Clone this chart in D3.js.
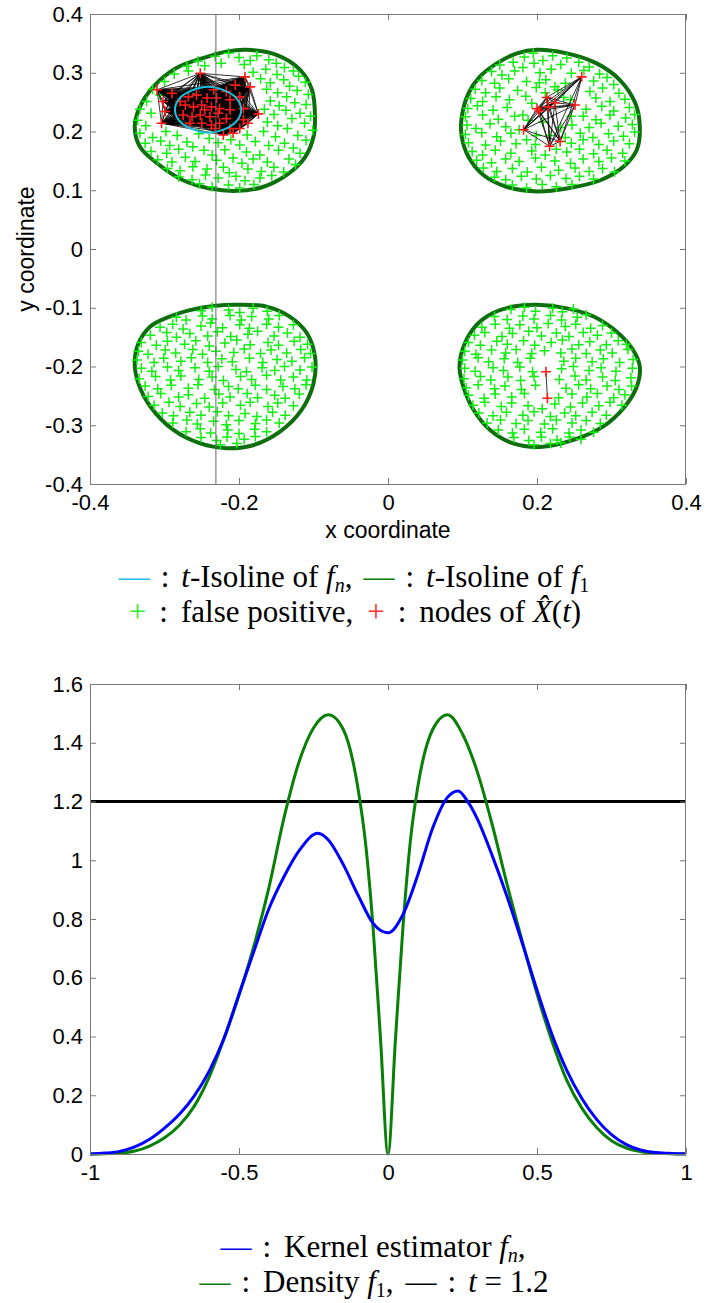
<!DOCTYPE html>
<html>
<head>
<meta charset="utf-8">
<script src="https://cdn.jsdelivr.net/npm/d3@7"></script>
<style>
  html, body { margin: 0; padding: 0; background: #fff; }
  svg { display: block; }
</style>
</head>
<body>
<svg id="chart" width="705" height="1303"></svg>
<script>
// ---------- top panel: isolines, false positives, nodes ----------
const xTicksTop = [-0.4, -0.2, 0, 0.2, 0.4];
const yTicksTop = [-0.4, -0.3, -0.2, -0.1, 0, 0.1, 0.2, 0.3, 0.4];

// t-isolines of f_1 (one closed curve per blob)
const isoF1TL = [[-0.190,0.339],[-0.149,0.330],[-0.118,0.305],[-0.102,0.271],[-0.098,0.225],[-0.100,0.191],[-0.111,0.157],[-0.136,0.126],[-0.167,0.106],[-0.203,0.099],[-0.239,0.103],[-0.275,0.117],[-0.310,0.146],[-0.333,0.174],[-0.340,0.208],[-0.333,0.242],[-0.315,0.276],[-0.284,0.308],[-0.243,0.327],[-0.217,0.336]];
const isoF1TR = [[0.200,0.339],[0.240,0.333],[0.280,0.316],[0.311,0.288],[0.332,0.248],[0.338,0.208],[0.334,0.169],[0.316,0.140],[0.285,0.117],[0.240,0.103],[0.200,0.098],[0.159,0.106],[0.128,0.126],[0.108,0.157],[0.099,0.191],[0.099,0.225],[0.108,0.265],[0.123,0.293],[0.146,0.316],[0.173,0.333]];
const isoF1BL = [[-0.203,-0.095],[-0.163,-0.098],[-0.132,-0.115],[-0.109,-0.143],[-0.098,-0.183],[-0.100,-0.229],[-0.116,-0.274],[-0.145,-0.311],[-0.181,-0.334],[-0.217,-0.339],[-0.252,-0.331],[-0.288,-0.308],[-0.319,-0.268],[-0.335,-0.229],[-0.340,-0.195],[-0.335,-0.161],[-0.319,-0.132],[-0.293,-0.115],[-0.266,-0.104],[-0.234,-0.097]];
const isoF1BR = [[0.200,-0.095],[0.240,-0.101],[0.276,-0.115],[0.307,-0.141],[0.329,-0.172],[0.338,-0.200],[0.334,-0.234],[0.318,-0.268],[0.289,-0.302],[0.249,-0.325],[0.204,-0.337],[0.168,-0.331],[0.137,-0.308],[0.115,-0.274],[0.101,-0.234],[0.096,-0.200],[0.103,-0.161],[0.119,-0.129],[0.141,-0.109],[0.168,-0.098]];

// t-isoline of f_n
const isoFn = [[-0.197,0.237],[-0.203,0.256],[-0.220,0.270],[-0.242,0.276],[-0.263,0.270],[-0.280,0.256],[-0.286,0.237],[-0.280,0.218],[-0.263,0.204],[-0.241,0.198],[-0.219,0.204],[-0.203,0.218]];

const cutX = -0.231;

// nodes of X^(t)
const nodesTL = [[-0.310,0.271],[-0.290,0.265],[-0.302,0.251],[-0.299,0.234],[-0.304,0.214],[-0.252,0.299],[-0.192,0.293],[-0.205,0.279],[-0.217,0.268],[-0.234,0.271],[-0.268,0.259],[-0.257,0.262],[-0.243,0.257],[-0.230,0.257],[-0.212,0.254],[-0.199,0.259],[-0.272,0.245],[-0.261,0.242],[-0.250,0.245],[-0.237,0.242],[-0.226,0.239],[-0.212,0.237],[-0.194,0.239],[-0.275,0.228],[-0.263,0.225],[-0.252,0.228],[-0.239,0.225],[-0.228,0.231],[-0.217,0.222],[-0.174,0.230],[-0.188,0.214],[-0.199,0.205],[-0.208,0.197],[-0.221,0.194],[-0.237,0.211],[-0.250,0.214],[-0.266,0.214],[-0.226,0.214],[-0.194,0.220],[-0.279,0.251],[-0.185,0.276],[-0.212,0.205],[-0.246,0.237],[-0.232,0.205]];
const nodesTR = [[0.260,0.293],[0.213,0.258],[0.224,0.249],[0.215,0.242],[0.200,0.239],[0.203,0.235],[0.251,0.245],[0.182,0.203],[0.231,0.183],[0.217,0.175]];
const nodesBR = [[0.212,-0.209],[0.214,-0.254]];

// false positives
const greenTL = [
  [-0.232,0.328],[-0.214,0.333],[-0.200,0.326],[-0.176,0.329],[-0.160,0.322],
  [-0.255,0.320],[-0.246,0.312],[-0.224,0.316],[-0.193,0.314],[-0.185,0.321],[-0.150,0.316],[-0.139,0.309],[-0.270,0.311],
  [-0.287,0.298],[-0.268,0.303],[-0.181,0.301],[-0.164,0.306],[-0.149,0.297],[-0.127,0.303],[-0.120,0.294],
  [-0.300,0.285],[-0.171,0.290],[-0.158,0.283],[-0.140,0.288],[-0.111,0.284],[-0.132,0.277],
  [-0.316,0.272],[-0.306,0.262],[-0.163,0.272],[-0.148,0.266],[-0.122,0.270],[-0.107,0.263],[-0.136,0.259],
  [-0.324,0.251],[-0.158,0.252],[-0.146,0.244],[-0.125,0.249],[-0.110,0.246],[-0.166,0.238],
  [-0.333,0.238],[-0.318,0.231],[-0.153,0.229],[-0.137,0.236],[-0.118,0.231],[-0.104,0.226],[-0.129,0.222],
  [-0.336,0.219],[-0.325,0.210],[-0.162,0.216],[-0.148,0.210],[-0.112,0.214],[-0.135,0.205],[-0.167,0.200],[-0.101,0.202],
  [-0.333,0.197],[-0.316,0.190],[-0.298,0.200],[-0.283,0.193],[-0.254,0.196],[-0.240,0.188],[-0.189,0.194],[-0.151,0.191],[-0.121,0.193],[-0.110,0.185],
  [-0.326,0.180],[-0.305,0.184],[-0.293,0.176],[-0.270,0.182],[-0.262,0.174],[-0.228,0.181],[-0.211,0.186],[-0.199,0.177],[-0.178,0.183],[-0.160,0.176],[-0.139,0.180],[-0.127,0.172],
  [-0.318,0.166],[-0.297,0.163],[-0.281,0.170],[-0.247,0.168],[-0.236,0.160],[-0.219,0.169],[-0.190,0.165],[-0.172,0.160],[-0.147,0.168],[-0.118,0.163],
  [-0.309,0.152],[-0.290,0.148],[-0.272,0.156],[-0.259,0.149],[-0.230,0.151],[-0.208,0.155],[-0.196,0.146],[-0.181,0.153],[-0.162,0.148],[-0.133,0.153],[-0.124,0.144],
  [-0.296,0.137],[-0.279,0.133],[-0.262,0.140],[-0.243,0.136],[-0.221,0.139],[-0.213,0.130],[-0.188,0.136],[-0.170,0.132],[-0.153,0.139],[-0.140,0.131],
  [-0.281,0.123],[-0.263,0.118],[-0.245,0.126],[-0.228,0.121],[-0.204,0.124],[-0.192,0.116],[-0.172,0.121],[-0.156,0.125],
  [-0.253,0.111],[-0.236,0.106],[-0.214,0.109],[-0.199,0.104],[-0.180,0.110]
];
const greenTR = [
  [0.183,0.327],[0.195,0.333],[0.221,0.329],[0.240,0.325],[0.208,0.321],
  [0.150,0.313],[0.168,0.318],[0.181,0.309],[0.232,0.314],[0.256,0.318],[0.270,0.310],[0.196,0.316],
  [0.139,0.302],[0.153,0.296],[0.170,0.303],[0.204,0.300],[0.219,0.306],[0.246,0.299],[0.263,0.304],[0.284,0.298],[0.294,0.292],
  [0.126,0.287],[0.143,0.282],[0.162,0.290],[0.186,0.285],[0.212,0.288],[0.238,0.282],[0.276,0.286],[0.303,0.280],
  [0.117,0.272],[0.131,0.266],[0.150,0.274],[0.174,0.270],[0.199,0.275],[0.228,0.271],[0.271,0.268],[0.288,0.274],[0.310,0.265],
  [0.111,0.256],[0.127,0.251],[0.145,0.259],[0.163,0.254],[0.185,0.260],[0.279,0.257],[0.298,0.251],[0.318,0.255],
  [0.107,0.239],[0.120,0.244],[0.141,0.236],[0.160,0.241],[0.266,0.238],[0.287,0.243],[0.303,0.235],[0.324,0.241],
  [0.104,0.225],[0.127,0.228],[0.148,0.221],[0.170,0.226],[0.188,0.219],[0.262,0.226],[0.279,0.220],[0.298,0.228],[0.319,0.223],[0.331,0.229],
  [0.106,0.211],[0.118,0.205],[0.137,0.213],[0.158,0.208],[0.247,0.211],[0.270,0.207],[0.286,0.214],[0.309,0.209],[0.328,0.212],
  [0.104,0.195],[0.126,0.198],[0.146,0.191],[0.165,0.197],[0.199,0.193],[0.258,0.197],[0.275,0.190],[0.296,0.196],[0.316,0.192],[0.331,0.199],
  [0.108,0.181],[0.131,0.177],[0.151,0.184],[0.172,0.179],[0.186,0.186],[0.246,0.180],[0.262,0.186],[0.283,0.178],[0.303,0.184],[0.324,0.179],
  [0.113,0.166],[0.127,0.160],[0.144,0.168],[0.165,0.163],[0.193,0.167],[0.211,0.160],[0.240,0.165],[0.257,0.170],[0.276,0.162],[0.294,0.168],[0.315,0.163],
  [0.119,0.151],[0.139,0.147],[0.158,0.153],[0.176,0.149],[0.198,0.155],[0.224,0.150],[0.245,0.146],[0.262,0.153],[0.283,0.149],[0.300,0.155],[0.318,0.150],
  [0.128,0.138],[0.146,0.132],[0.167,0.137],[0.187,0.131],[0.206,0.139],[0.229,0.134],[0.251,0.138],[0.270,0.132],[0.288,0.137],[0.304,0.131],
  [0.143,0.122],[0.158,0.118],[0.179,0.124],[0.199,0.119],[0.218,0.125],[0.239,0.120],[0.257,0.124],[0.276,0.119],
  [0.167,0.109],[0.186,0.104],[0.207,0.110],[0.226,0.106],[0.247,0.110],
  [0.203,0.283],[0.224,0.276],[0.211,0.266],[0.236,0.258],[0.193,0.248],[0.246,0.226],[0.181,0.228],[0.208,0.216],[0.232,0.207],[0.176,0.203],[0.217,0.193],[0.238,0.190],[0.198,0.178],[0.226,0.170],[0.245,0.254]
];
const greenBL = [
  [-0.251,-0.105],[-0.236,-0.099],[-0.214,-0.104],[-0.199,-0.108],[-0.181,-0.101],[-0.162,-0.106],
  [-0.284,-0.116],[-0.271,-0.121],[-0.249,-0.114],[-0.236,-0.119],[-0.212,-0.113],[-0.197,-0.121],[-0.183,-0.115],[-0.160,-0.119],[-0.146,-0.113],
  [-0.306,-0.133],[-0.289,-0.128],[-0.275,-0.136],[-0.251,-0.131],[-0.238,-0.126],[-0.222,-0.134],[-0.199,-0.129],[-0.186,-0.135],[-0.163,-0.128],[-0.147,-0.133],[-0.127,-0.129],
  [-0.319,-0.147],[-0.297,-0.142],[-0.284,-0.150],[-0.266,-0.144],[-0.242,-0.148],[-0.229,-0.141],[-0.211,-0.149],[-0.188,-0.145],[-0.175,-0.140],[-0.153,-0.148],[-0.135,-0.143],[-0.118,-0.150],
  [-0.331,-0.159],[-0.311,-0.164],[-0.296,-0.157],[-0.273,-0.162],[-0.258,-0.156],[-0.240,-0.165],[-0.219,-0.160],[-0.203,-0.155],[-0.185,-0.163],[-0.161,-0.159],[-0.147,-0.164],[-0.126,-0.157],[-0.108,-0.162],
  [-0.335,-0.174],[-0.322,-0.179],[-0.299,-0.172],[-0.285,-0.177],[-0.262,-0.171],[-0.249,-0.179],[-0.231,-0.174],[-0.207,-0.176],[-0.193,-0.170],[-0.171,-0.178],[-0.157,-0.172],[-0.136,-0.177],[-0.117,-0.171],[-0.104,-0.178],
  [-0.337,-0.189],[-0.314,-0.193],[-0.301,-0.186],[-0.278,-0.191],[-0.264,-0.185],[-0.242,-0.193],[-0.223,-0.187],[-0.209,-0.192],[-0.186,-0.186],[-0.168,-0.193],[-0.149,-0.188],[-0.129,-0.191],[-0.112,-0.185],
  [-0.331,-0.203],[-0.317,-0.208],[-0.296,-0.201],[-0.281,-0.207],[-0.259,-0.202],[-0.240,-0.208],[-0.228,-0.200],[-0.204,-0.205],[-0.190,-0.209],[-0.169,-0.202],[-0.152,-0.207],[-0.139,-0.200],[-0.118,-0.206],[-0.102,-0.201],
  [-0.334,-0.221],[-0.312,-0.217],[-0.292,-0.223],[-0.278,-0.216],[-0.254,-0.222],[-0.236,-0.218],[-0.221,-0.224],[-0.198,-0.217],[-0.183,-0.222],[-0.163,-0.215],[-0.144,-0.223],[-0.127,-0.218],[-0.109,-0.223],
  [-0.326,-0.233],[-0.309,-0.238],[-0.291,-0.232],[-0.268,-0.237],[-0.255,-0.231],[-0.233,-0.239],[-0.214,-0.234],[-0.201,-0.238],[-0.178,-0.232],[-0.163,-0.239],[-0.141,-0.234],[-0.125,-0.238],[-0.110,-0.231],
  [-0.322,-0.251],[-0.305,-0.246],[-0.281,-0.252],[-0.268,-0.248],[-0.246,-0.254],[-0.227,-0.247],[-0.212,-0.252],[-0.189,-0.246],[-0.175,-0.253],[-0.152,-0.249],[-0.138,-0.254],[-0.119,-0.247],
  [-0.314,-0.266],[-0.294,-0.261],[-0.279,-0.268],[-0.257,-0.263],[-0.240,-0.269],[-0.222,-0.262],[-0.198,-0.266],[-0.185,-0.261],[-0.161,-0.268],[-0.148,-0.262],[-0.127,-0.267],
  [-0.303,-0.279],[-0.288,-0.284],[-0.266,-0.278],[-0.251,-0.283],[-0.229,-0.277],[-0.214,-0.284],[-0.192,-0.280],[-0.176,-0.285],[-0.155,-0.278],[-0.138,-0.283],
  [-0.289,-0.296],[-0.270,-0.291],[-0.256,-0.298],[-0.234,-0.293],[-0.217,-0.299],[-0.200,-0.292],[-0.178,-0.297],[-0.163,-0.291],[-0.146,-0.296],
  [-0.271,-0.311],[-0.252,-0.306],[-0.238,-0.313],[-0.215,-0.308],[-0.200,-0.314],[-0.179,-0.307],[-0.163,-0.311],
  [-0.251,-0.321],[-0.230,-0.326],[-0.216,-0.320],[-0.193,-0.324],[-0.178,-0.319],
  [-0.225,-0.333],[-0.203,-0.331]
];
const greenBR = [
  [0.165,-0.103],[0.183,-0.099],[0.198,-0.106],[0.221,-0.101],[0.234,-0.107],[0.249,-0.102],
  [0.143,-0.115],[0.160,-0.120],[0.181,-0.114],[0.196,-0.119],[0.218,-0.113],[0.233,-0.121],[0.254,-0.116],[0.266,-0.112],
  [0.126,-0.133],[0.144,-0.128],[0.163,-0.135],[0.177,-0.129],[0.200,-0.134],[0.215,-0.127],[0.238,-0.132],[0.252,-0.128],[0.272,-0.135],[0.288,-0.130],
  [0.116,-0.147],[0.130,-0.142],[0.153,-0.149],[0.167,-0.144],[0.189,-0.140],[0.206,-0.148],[0.226,-0.143],[0.243,-0.149],[0.262,-0.142],[0.281,-0.147],[0.300,-0.143],
  [0.108,-0.159],[0.124,-0.164],[0.146,-0.157],[0.160,-0.162],[0.182,-0.156],[0.197,-0.164],[0.219,-0.159],[0.234,-0.155],[0.256,-0.163],[0.271,-0.158],[0.293,-0.163],[0.309,-0.156],[0.320,-0.162],
  [0.103,-0.174],[0.118,-0.179],[0.139,-0.172],[0.158,-0.177],[0.172,-0.171],[0.193,-0.178],[0.210,-0.173],[0.232,-0.177],[0.247,-0.170],[0.266,-0.178],[0.285,-0.172],[0.301,-0.177],[0.322,-0.171],
  [0.100,-0.189],[0.121,-0.185],[0.135,-0.192],[0.156,-0.187],[0.174,-0.193],[0.191,-0.186],[0.236,-0.191],[0.252,-0.186],[0.274,-0.192],[0.289,-0.187],[0.311,-0.193],[0.329,-0.188],
  [0.103,-0.203],[0.117,-0.208],[0.141,-0.202],[0.155,-0.207],[0.177,-0.201],[0.194,-0.209],[0.233,-0.204],[0.249,-0.200],[0.270,-0.207],[0.286,-0.202],[0.306,-0.208],[0.328,-0.203],
  [0.102,-0.221],[0.124,-0.217],[0.138,-0.223],[0.161,-0.218],[0.178,-0.224],[0.196,-0.217],[0.230,-0.222],[0.251,-0.216],[0.266,-0.223],[0.288,-0.218],[0.305,-0.224],[0.326,-0.219],
  [0.105,-0.236],[0.121,-0.231],[0.143,-0.238],[0.157,-0.233],[0.179,-0.239],[0.198,-0.232],[0.239,-0.237],[0.256,-0.231],[0.272,-0.238],[0.294,-0.233],[0.310,-0.239],[0.327,-0.233],
  [0.108,-0.249],[0.129,-0.254],[0.144,-0.247],[0.166,-0.252],[0.183,-0.246],[0.229,-0.253],[0.247,-0.247],[0.267,-0.252],[0.281,-0.246],[0.303,-0.253],[0.318,-0.248],
  [0.114,-0.266],[0.130,-0.261],[0.152,-0.268],[0.166,-0.262],[0.188,-0.267],[0.207,-0.272],[0.224,-0.264],[0.245,-0.269],[0.261,-0.262],[0.283,-0.267],[0.298,-0.261],[0.314,-0.266],
  [0.122,-0.279],[0.141,-0.284],[0.159,-0.278],[0.181,-0.283],[0.196,-0.277],[0.218,-0.285],[0.237,-0.279],[0.252,-0.284],[0.274,-0.278],[0.293,-0.283],
  [0.133,-0.296],[0.151,-0.291],[0.172,-0.297],[0.188,-0.292],[0.210,-0.298],[0.226,-0.291],[0.247,-0.296],[0.266,-0.292],[0.285,-0.297],
  [0.148,-0.308],[0.167,-0.313],[0.183,-0.307],[0.205,-0.312],[0.221,-0.306],[0.243,-0.313],[0.259,-0.308],[0.276,-0.312],
  [0.169,-0.321],[0.189,-0.326],[0.206,-0.320],[0.227,-0.325],[0.244,-0.320],[0.259,-0.324],
  [0.196,-0.333],[0.218,-0.331],[0.232,-0.330]
];

// ---------- bottom panel: densities ----------
const xTicksBottom = [-1, -0.5, 0, 0.5, 1];
const yTicksBottom = [0, 0.2, 0.4, 0.6, 0.8, 1, 1.2, 1.4, 1.6];

const densityX  = [-1, -0.95, -0.9, -0.85, -0.8, -0.75, -0.7, -0.65, -0.6, -0.55, -0.5, -0.45, -0.4, -0.35, -0.3, -0.25, -0.2, -0.15, -0.1, -0.075, -0.05, -0.025, 0, 0.025, 0.05, 0.075, 0.1, 0.15, 0.2, 0.25, 0.3, 0.35, 0.4, 0.45, 0.5, 0.55, 0.6, 0.65, 0.7, 0.75, 0.8, 0.85, 0.9, 0.95, 1];
const densityF1 = [0, 0.001, 0.003, 0.01, 0.027, 0.055, 0.098, 0.163, 0.262, 0.393, 0.54, 0.708, 0.905, 1.14, 1.33, 1.45, 1.495, 1.445, 1.24, 1.055, 0.77, 0.39, 0, 0.39, 0.77, 1.065, 1.25, 1.445, 1.495, 1.43, 1.3, 1.12, 0.916, 0.726, 0.545, 0.385, 0.251, 0.157, 0.09, 0.045, 0.02, 0.008, 0.003, 0.001, 0];

const kernelX  = [-1, -0.95, -0.9, -0.85, -0.8, -0.75, -0.7, -0.65, -0.6, -0.55, -0.5, -0.45, -0.4, -0.35, -0.3, -0.235, -0.2, -0.15, -0.1, -0.05, 0, 0.05, 0.1, 0.15, 0.2, 0.235, 0.27, 0.3, 0.35, 0.4, 0.45, 0.5, 0.55, 0.6, 0.65, 0.7, 0.75, 0.8, 0.85, 0.9, 0.95, 1];
const kernelFn = [0, 0.003, 0.009, 0.024, 0.05, 0.088, 0.135, 0.198, 0.282, 0.395, 0.544, 0.69, 0.834, 0.942, 1.03, 1.092, 1.069, 0.985, 0.88, 0.785, 0.753, 0.815, 0.95, 1.11, 1.215, 1.236, 1.196, 1.14, 1.015, 0.875, 0.72, 0.558, 0.408, 0.285, 0.19, 0.118, 0.066, 0.032, 0.013, 0.005, 0.002, 0.001];

const levelT = 1.2;

// ---------- legend lines (gap = extra space before a part, px) ----------
const legendTop1 = [
  { t: '\u2014', c: '#1cc0de' }, { t: ':', gap: 11 }, { t: 't', i: true, gap: 12 }, { t: '-Isoline of ' },
  { t: 'f', i: true }, { t: 'n', i: true, sub: true }, { t: ',' },
  { t: '\u2014', c: '#0a7a0a', gap: 11 }, { t: ':', gap: 11 }, { t: 't', i: true, gap: 12 }, { t: '-Isoline of ' },
  { t: 'f', i: true }, { t: '1', sub: true }
];
const legendTop2 = [
  { t: '+', c: '#33ee33' }, { t: ':', gap: 13 }, { t: 'false positive,', gap: 13 },
  { t: '+', c: '#ff3030', gap: 14 }, { t: ':', gap: 13 }, { t: 'nodes of ', gap: 13 },
  { t: 'X\u0302', i: true }, { t: '(' }, { t: 't', i: true }, { t: ')' }
];
const legendBottom1 = [
  { t: '\u2014', c: '#0000ee' }, { t: ':', gap: 11 }, { t: 'Kernel estimator ', gap: 13 },
  { t: 'f', i: true }, { t: 'n', i: true, sub: true }, { t: ',' }
];
const legendBottom2 = [
  { t: '\u2014', c: '#0a7a0a' }, { t: ':', gap: 11 }, { t: 'Density ', gap: 13 }, { t: 'f', i: true }, { t: '1', sub: true },
  { t: ',' }, { t: '\u2014', c: '#000', gap: 12 }, { t: ':', gap: 11 }, { t: 't', i: true, gap: 12 }, { t: ' = 1.2' }
];

// ---------- drawing ----------
const svg = d3.select('#chart');
const sansFont = '"Liberation Sans", Arial, Helvetica, sans-serif';
const serifFont = '"Liberation Serif", "Times New Roman", serif';
const axisColor = '#7a7a7a';

const plotLeft = 90, plotRight = 686;
const topPanel = { top: 14, bottom: 484 };
const bottomPanel = { top: 684, bottom: 1154 };

const x1 = d3.scaleLinear().domain([-0.4, 0.4]).range([plotLeft, plotRight]);
const y1 = d3.scaleLinear().domain([-0.4, 0.4]).range([topPanel.bottom, topPanel.top]);
const x2 = d3.scaleLinear().domain([-1, 1]).range([plotLeft, plotRight]);
const y2 = d3.scaleLinear().domain([0, 1.6]).range([bottomPanel.bottom, bottomPanel.top]);

const fmt = d => String(+d.toFixed(2));

function styleAxis(g, showLabels) {
  g.attr('font-family', sansFont).attr('font-size', 22);
  g.select('.domain').remove();
  g.selectAll('.tick line').attr('stroke', axisColor);
  g.selectAll('.tick text').attr('fill', '#000');
  if (!showLabels) g.selectAll('.tick text').remove();
}

function drawFrame(x, y, xTicks, yTicks) {
  const [l, r] = x.range();
  const [b, t] = y.range();
  const layer = svg.append('g');
  layer.append('g').attr('transform', `translate(0,${b})`)
    .call(d3.axisBottom(x).tickValues(xTicks).tickFormat(fmt).tickSize(-6).tickSizeOuter(0).tickPadding(10))
    .call(g => styleAxis(g, true));
  layer.append('g').attr('transform', `translate(0,${t})`)
    .call(d3.axisTop(x).tickValues(xTicks).tickSize(-6).tickSizeOuter(0))
    .call(g => styleAxis(g, false));
  layer.append('g').attr('transform', `translate(${l},0)`)
    .call(d3.axisLeft(y).tickValues(yTicks).tickFormat(fmt).tickSize(-6).tickSizeOuter(0).tickPadding(7))
    .call(g => styleAxis(g, true));
  layer.append('g').attr('transform', `translate(${r},0)`)
    .call(d3.axisRight(y).tickValues(yTicks).tickSize(-6).tickSizeOuter(0))
    .call(g => styleAxis(g, false));
  layer.append('rect')
    .attr('x', l + 0.5).attr('y', t + 0.5)
    .attr('width', r - l - 1).attr('height', b - t)
    .attr('fill', 'none').attr('stroke', axisColor).attr('stroke-width', 1);
}

function plusPath(s) {
  return `M${-s},0H${s}M0,${-s}V${s}`;
}

function drawPluses(points, color, size, width) {
  svg.append('g').selectAll('path')
    .data(points)
    .join('path')
    .attr('d', plusPath(size))
    .attr('transform', d => `translate(${x1(d[0])},${y1(d[1])})`)
    .attr('stroke', color)
    .attr('stroke-width', width)
    .attr('fill', 'none');
}

function drawGraph(nodes) {
  const edges = [];
  for (let i = 0; i < nodes.length; i++) {
    for (let j = i + 1; j < nodes.length; j++) edges.push([nodes[i], nodes[j]]);
  }
  svg.append('g').selectAll('line')
    .data(edges)
    .join('line')
    .attr('x1', d => x1(d[0][0])).attr('y1', d => y1(d[0][1]))
    .attr('x2', d => x1(d[1][0])).attr('y2', d => y1(d[1][1]))
    .attr('stroke', '#000')
    .attr('stroke-width', 0.8);
}

// top panel
const closedLine = d3.line()
  .x(d => x1(d[0])).y(d => y1(d[1]))
  .curve(d3.curveCatmullRomClosed.alpha(0.5));

svg.append('g').selectAll('path')
  .data([isoF1TL, isoF1TR, isoF1BL, isoF1BR])
  .join('path')
  .attr('d', closedLine)
  .attr('fill', 'none')
  .attr('stroke', '#0d6e0d')
  .attr('stroke-width', 4);

drawPluses([...greenTL, ...greenTR, ...greenBL, ...greenBR], '#11ee11', 5, 1.5);
drawGraph(nodesTL);
drawGraph(nodesTR);
drawGraph(nodesBR);
drawPluses([...nodesTL, ...nodesTR, ...nodesBR], '#ff1a1a', 5, 1.6);

svg.append('path')
  .attr('d', closedLine(isoFn))
  .attr('fill', 'none')
  .attr('stroke', '#1cc0de')
  .attr('stroke-width', 2);

svg.append('line')
  .attr('x1', x1(cutX)).attr('x2', x1(cutX))
  .attr('y1', y1(-0.4)).attr('y2', y1(0.4))
  .attr('stroke', '#666').attr('stroke-width', 1);

drawFrame(x1, y1, xTicksTop, yTicksTop);

svg.append('text')
  .attr('x', x1(0)).attr('y', 538)
  .attr('text-anchor', 'middle')
  .attr('font-family', sansFont).attr('font-size', 23)
  .text('x coordinate');

svg.append('text')
  .attr('transform', `translate(34,${y1(0)}) rotate(-90)`)
  .attr('text-anchor', 'middle')
  .attr('font-family', sansFont).attr('font-size', 23)
  .text('y coordinate');

// bottom panel
const curve = (xs, ys) => d3.line()
  .x((d, i) => x2(xs[i])).y(d => y2(d))
  .curve(d3.curveMonotoneX)(ys);

svg.append('line')
  .attr('x1', x2(-1)).attr('x2', x2(1))
  .attr('y1', y2(levelT)).attr('y2', y2(levelT))
  .attr('stroke', '#000').attr('stroke-width', 3);

svg.append('path')
  .attr('d', curve(densityX, densityF1))
  .attr('fill', 'none').attr('stroke', '#088008').attr('stroke-width', 3)
  .attr('stroke-linejoin', 'round');

svg.append('path')
  .attr('d', curve(kernelX, kernelFn))
  .attr('fill', 'none').attr('stroke', '#0000ff').attr('stroke-width', 3)
  .attr('stroke-linejoin', 'round');

drawFrame(x2, y2, xTicksBottom, yTicksBottom);

// legends
function drawLegendLine(cx, baseline, parts) {
  const text = svg.append('text')
    .attr('x', cx).attr('y', baseline)
    .attr('text-anchor', 'middle')
    .attr('font-family', serifFont)
    .attr('font-size', 31)
    .style('white-space', 'pre');
  let shifted = false;
  parts.forEach(p => {
    const ts = text.append('tspan').text(p.t);
    if (p.gap) ts.attr('dx', p.gap);
    if (p.i) ts.attr('font-style', 'italic');
    if (p.c) ts.attr('fill', p.c);
    if (p.sub) {
      ts.attr('font-size', 20);
      if (!shifted) { ts.attr('dy', 5); shifted = true; }
    } else if (shifted) {
      ts.attr('dy', -5);
      shifted = false;
    }
  });
}

drawLegendLine(354, 587, legendTop1);
drawLegendLine(355, 622, legendTop2);
drawLegendLine(373, 1257, legendBottom1);
drawLegendLine(374, 1292, legendBottom2);
</script>
</body>
</html>
